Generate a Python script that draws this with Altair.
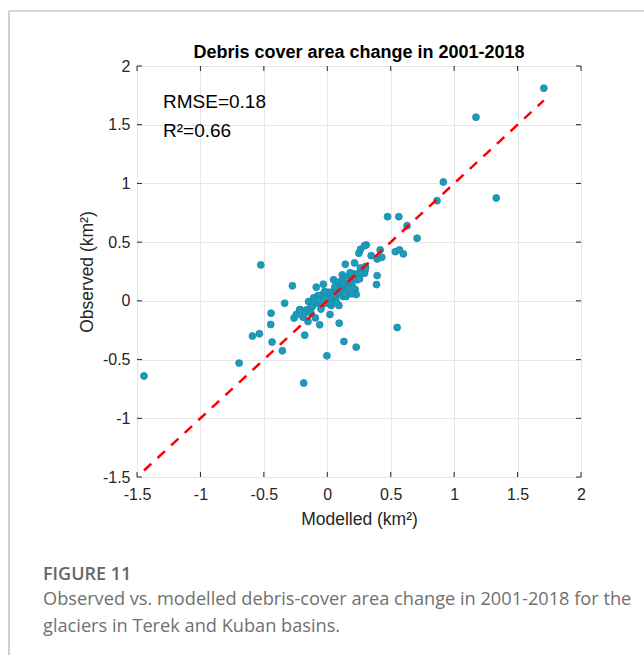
import altair as alt
import pandas as pd

# Modelled (x) and observed (y) debris-cover area change, km^2
modelled = [
    1.707, 1.172, 0.915, 0.865, 1.332, 0.475, 0.564, 0.629, 0.708, 0.537,
    0.569, 0.600, 0.417, 0.393, 0.430, 0.346, 0.307, 0.294, 0.262, 0.249,
    0.142, 0.215, 0.302, 0.299, 0.294, 0.393, 0.388, -0.524, -0.275, -0.336,
    -0.443, -0.446, -0.535, -0.590, -0.435, -0.354, -0.695, -1.445, -0.186, -0.003,
    0.131, 0.228, 0.551, 0.094, -0.060, -0.178, 0.021, -0.094, -0.262, -0.152,
    -0.215, -0.087, -0.031, 0.050, 0.118, 0.123, 0.170, 0.176, 0.210, 0.241,
    0.233, 0.220, 0.228, 0.194, 0.149, 0.157, 0.189, 0.110, 0.084, 0.071,
    0.058, 0.039, 0.018, -0.008, -0.034, -0.073, -0.107, -0.147, -0.118, -0.165,
    -0.218, -0.244, -0.191, -0.178, -0.047, -0.008, 0.031, 0.066, 0.092, 0.123,
    0.149, 0.097, 0.136, 0.071, 0.031, -0.087, -0.126, -0.073, -0.021, 0.071,
    0.202, 0.254, 0.267, 0.144, 0.050, 0.100, 0.160, 0.120, 0.200, -0.020,
    0.020, 0.060, 0.180, -0.130, -0.050, 0.260,
]
observed = [
    1.811, 1.564, 1.012, 0.853, 0.876, 0.717, 0.717, 0.640, 0.533, 0.419,
    0.434, 0.400, 0.434, 0.357, 0.371, 0.385, 0.476, 0.470, 0.439, 0.405,
    0.312, 0.323, 0.292, 0.264, 0.235, 0.215, 0.139, 0.306, 0.128, -0.020,
    -0.105, -0.201, -0.280, -0.300, -0.351, -0.425, -0.530, -0.640, -0.700, -0.468,
    -0.346, -0.394, -0.227, -0.190, -0.204, -0.292, -0.116, -0.145, -0.147, -0.176,
    -0.074, 0.116, 0.142, 0.179, 0.221, 0.187, 0.207, 0.173, 0.230, 0.230,
    0.179, 0.096, 0.054, 0.060, 0.088, 0.130, 0.150, 0.116, 0.159, 0.116,
    0.088, 0.060, 0.074, 0.037, 0.054, 0.045, 0.026, -0.006, -0.048, -0.077,
    -0.077, -0.116, -0.139, -0.105, -0.040, -0.020, 0.009, 0.031, -0.040, 0.037,
    0.037, 0.074, 0.060, -0.011, -0.040, -0.020, -0.040, 0.003, 0.017, 0.079,
    0.116, 0.187, 0.235, 0.196, 0.050, 0.100, 0.170, 0.150, 0.200, 0.080,
    -0.020, 0.120, 0.240, -0.100, -0.070, 0.280,
]

fit_line_x = [-1.445, 1.707]
fit_line_y = [-1.445, 1.707]

tick_values = [-1.5, -1, -0.5, 0, 0.5, 1, 1.5, 2]

title_text = "Debris cover area change in 2001-2018"
x_title = "Modelled (km²)"
y_title = "Observed (km²)"
stats_lines = ["RMSE=0.18", "R²=0.66"]
fig_label = "FIGURE 11"
caption_lines = [
    "Observed vs. modelled debris-cover area change in 2001-2018 for the",
    "glaciers in Terek and Kuban basins.",
]

W, H = 444, 411
FONT = "Liberation Sans"
DARK = "#262626"

pts = pd.DataFrame({"Modelled": modelled, "Observed": observed})
line_df = pd.DataFrame({"Modelled": fit_line_x, "Observed": fit_line_y})
ticks_df = pd.DataFrame({"v": tick_values})
one = pd.DataFrame({"a": [0]})

xscale = alt.Scale(domain=[-1.5, 2], nice=False, zero=False)
yscale = alt.Scale(domain=[-1.5, 2], nice=False, zero=False)

xaxis = alt.Axis(values=tick_values, labelExpr="'' + datum.value", title=x_title,
                 grid=True, ticks=False, domain=False, labelPadding=9,
                 titlePadding=8, labelFlush=False)
yaxis = alt.Axis(values=tick_values, labelExpr="'' + datum.value", title=y_title,
                 grid=True, ticks=False, domain=False, labelPadding=7,
                 titlePadding=6, labelFlush=False)

points = alt.Chart(pts).mark_circle(
    size=48, color="#14a1b3", stroke="#2a7fba", strokeWidth=0.8, opacity=1
).encode(
    x=alt.X("Modelled:Q", scale=xscale, axis=xaxis),
    y=alt.Y("Observed:Q", scale=yscale, axis=yaxis),
)

fit = alt.Chart(line_df).mark_line(
    color="#ff0000", strokeWidth=2.5, strokeDash=[10, 8.5]
).encode(
    x=alt.X("Modelled:Q", scale=xscale),
    y=alt.Y("Observed:Q", scale=yscale),
)

tick_style = dict(color=DARK, strokeWidth=1)
xt_bottom = alt.Chart(ticks_df).mark_rule(**tick_style).encode(
    x=alt.X("v:Q", scale=xscale), y=alt.value(H), y2=alt.value(H - 5))
xt_top = alt.Chart(ticks_df).mark_rule(**tick_style).encode(
    x=alt.X("v:Q", scale=xscale), y=alt.value(0), y2=alt.value(5))
yt_left = alt.Chart(ticks_df).mark_rule(**tick_style).encode(
    y=alt.Y("v:Q", scale=yscale), x=alt.value(0), x2=alt.value(5))
yt_right = alt.Chart(ticks_df).mark_rule(**tick_style).encode(
    y=alt.Y("v:Q", scale=yscale), x=alt.value(W), x2=alt.value(W - 5))

title_mark = alt.Chart(one).mark_text(
    text=title_text, font=FONT, fontSize=18, fontWeight="bold", color="#000000",
    align="center", baseline="alphabetic"
).encode(x=alt.value(W / 2), y=alt.value(-8))

stats1 = alt.Chart(one).mark_text(
    text=stats_lines[0], font=FONT, fontSize=19, color="#000000",
    align="left", baseline="middle"
).encode(x=alt.value(26), y=alt.value(36))
stats2 = alt.Chart(one).mark_text(
    text=stats_lines[1], font=FONT, fontSize=19, color="#000000",
    align="left", baseline="middle"
).encode(x=alt.value(26), y=alt.value(65))

figlab = alt.Chart(one).mark_text(
    text=fig_label, font="Open Sans", fontSize=18, fontWeight=600, color="#666666",
    align="left", baseline="alphabetic"
).encode(x=alt.value(-94), y=alt.value(514))
cap1 = alt.Chart(one).mark_text(
    text=caption_lines[0], font="Open Sans", fontSize=18.2, color="#707070",
    align="left", baseline="alphabetic"
).encode(x=alt.value(-94), y=alt.value(539))
cap2 = alt.Chart(one).mark_text(
    text=caption_lines[1], font="Open Sans", fontSize=18.2, color="#707070",
    align="left", baseline="alphabetic"
).encode(x=alt.value(-94), y=alt.value(566))

frame_v = alt.Chart(one).mark_rule(color="#b0b0b0", strokeWidth=1.2).encode(
    x=alt.value(-128), y=alt.value(-55), y2=alt.value(600))
frame_h = alt.Chart(one).mark_rule(color="#b0b0b0", strokeWidth=1.2).encode(
    x=alt.value(-128), x2=alt.value(520), y=alt.value(-55))

chart = alt.layer(
    points, fit, xt_bottom, xt_top, yt_left, yt_right, title_mark,
    stats1, stats2, figlab, cap1, cap2, frame_v, frame_h,
).properties(
    width=W, height=H,
    background="white",
    autosize=alt.AutoSizeParams(type="none"),
    padding={"left": 137, "top": 66, "right": 63, "bottom": 178},
).configure_view(
    stroke="#4d4d4d", strokeWidth=1
).configure_axis(
    labelFont=FONT, labelFontSize=16, labelColor=DARK,
    titleFont=FONT, titleFontSize=17.5, titleFontWeight="normal", titleColor=DARK,
    gridColor="#e6e6e6", gridWidth=1,
)

chart.save("out.html", embed_options={"renderer": "svg", "actions": False})
